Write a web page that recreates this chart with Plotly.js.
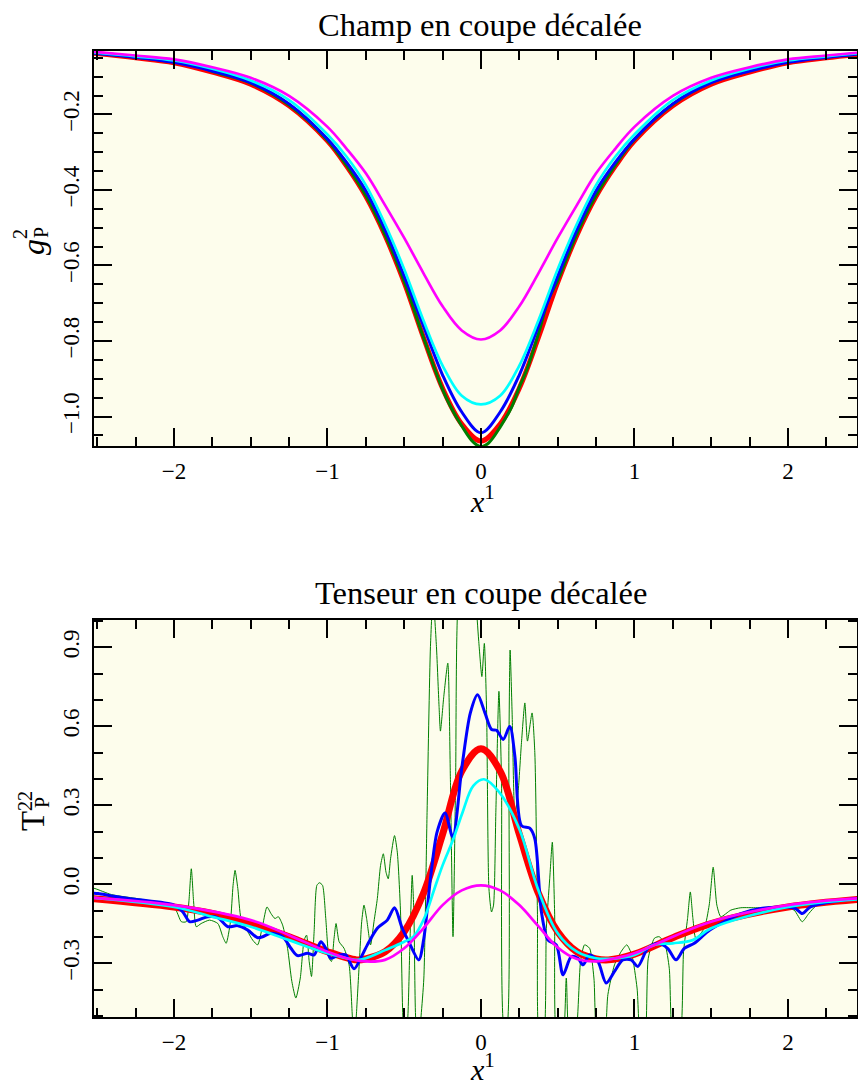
<!DOCTYPE html>
<html>
<head>
<meta charset="utf-8">
<script src="https://cdn.plot.ly/plotly-3.0.1.min.js"></script>
<style>html,body{margin:0;padding:0;background:#fff;}#chart{width:858px;height:1085px;}</style>
</head>
<body>
<div id="chart"></div>
<script>
// ---------- Top panel: Champ en coupe décalée ----------
const xTop = [-2.55,-2.25,-2,-1.75,-1.5,-1.25,-1,-0.875,-0.75,-0.625,-0.5,-0.375,-0.25,-0.125,0,0.125,0.25,0.375,0.5,0.625,0.75,0.875,1,1.25,1.5,1.75,2,2.25,2.55];
const redTop = [-0.037,-0.050,-0.063,-0.088,-0.120,-0.177,-0.270,-0.337,-0.417,-0.520,-0.645,-0.790,-0.925,-1.020,-1.065,-1.020,-0.925,-0.790,-0.645,-0.520,-0.417,-0.337,-0.270,-0.177,-0.120,-0.088,-0.063,-0.050,-0.037];
const blueTop = [-0.037,-0.049,-0.062,-0.085,-0.116,-0.172,-0.265,-0.327,-0.402,-0.505,-0.628,-0.760,-0.890,-0.988,-1.043,-0.988,-0.890,-0.760,-0.628,-0.505,-0.402,-0.327,-0.265,-0.172,-0.116,-0.085,-0.062,-0.049,-0.037];
const cyanTop = [-0.035,-0.046,-0.057,-0.079,-0.110,-0.162,-0.253,-0.312,-0.387,-0.490,-0.610,-0.745,-0.865,-0.945,-0.968,-0.945,-0.865,-0.745,-0.610,-0.490,-0.387,-0.312,-0.253,-0.162,-0.110,-0.079,-0.057,-0.046,-0.035];
const magentaTop = [-0.033,-0.044,-0.054,-0.075,-0.103,-0.151,-0.233,-0.291,-0.356,-0.440,-0.527,-0.620,-0.708,-0.772,-0.796,-0.772,-0.708,-0.620,-0.527,-0.440,-0.356,-0.291,-0.233,-0.151,-0.103,-0.075,-0.054,-0.044,-0.033];
const xGreenTop = [-2.55,-2.25,-2,-1.89,-1.75,-1.5,-1.25,-1,-0.875,-0.75,-0.625,-0.5,-0.375,-0.25,-0.2,-0.125,-0.05,0,0.05,0.125,0.2,0.25,0.3,0.375,0.44,0.5,0.625,0.75,0.875,1,1.25,1.5,1.75,2,2.25,2.55];
const greenTop = [-0.036,-0.048,-0.061,-0.066,-0.086,-0.117,-0.175,-0.268,-0.335,-0.415,-0.518,-0.642,-0.790,-0.928,-0.972,-1.025,-1.068,-1.080,-1.070,-1.028,-0.975,-0.922,-0.875,-0.780,-0.690,-0.640,-0.516,-0.414,-0.334,-0.266,-0.173,-0.115,-0.084,-0.060,-0.047,-0.036];

// ---------- Bottom panel: Tenseur en coupe décalée ----------
const xRedBot = [-2.55,-2,-1.75,-1.5,-1.25,-1,-0.81,-0.75,-0.625,-0.5,-0.375,-0.25,-0.125,0,0.125,0.25,0.375,0.5,0.625,0.75,0.83,1,1.25,1.5,2,2.55];
const redBot = [-0.053,-0.086,-0.111,-0.149,-0.199,-0.256,-0.287,-0.283,-0.256,-0.180,-0.035,0.190,0.430,0.515,0.430,0.190,-0.035,-0.180,-0.256,-0.283,-0.287,-0.265,-0.203,-0.149,-0.086,-0.053];
const xMagBot = [-2.55,-2,-1.5,-1.25,-1,-0.875,-0.75,-0.625,-0.5,-0.375,-0.25,-0.125,0,0.125,0.25,0.375,0.5,0.625,0.75,0.875,1,1.25,1.5,2,2.55];
const magentaBot = [-0.050,-0.079,-0.136,-0.193,-0.256,-0.281,-0.293,-0.287,-0.243,-0.167,-0.079,-0.023,-0.004,-0.023,-0.079,-0.160,-0.240,-0.284,-0.293,-0.281,-0.262,-0.199,-0.142,-0.079,-0.050];
const xCyanBot = [-2.55,-2,-1.75,-1.5,-1.25,-1,-0.81,-0.75,-0.62,-0.5,-0.44,-0.37,-0.31,-0.25,-0.18,-0.12,-0.05,0.02,0.12,0.25,0.37,0.5,0.625,0.75,0.88,1.0,1.13,1.25,1.38,1.5,2,2.55];
const cyanBot = [-0.050,-0.086,-0.123,-0.161,-0.212,-0.262,-0.287,-0.281,-0.249,-0.218,-0.199,-0.130,-0.029,0.072,0.172,0.273,0.374,0.399,0.349,0.210,-0.016,-0.186,-0.256,-0.281,-0.281,-0.268,-0.230,-0.224,-0.212,-0.167,-0.086,-0.053];
const blueBotPoints = [
  [-2.55,-0.033],[-2.494,-0.035],[-2.407,-0.044],[-2.255,-0.057],[-2.0,-0.079],[-1.942,-0.105],[-1.898,-0.142],[-1.844,-0.136],[-1.779,-0.123],[-1.714,-0.127],
  [-1.649,-0.161],[-1.584,-0.157],[-1.519,-0.174],[-1.455,-0.203],[-1.422,-0.199],[-1.368,-0.186],[-1.292,-0.199],[-1.238,-0.243],[-1.195,-0.271],[-1.13,-0.262],
  [-1.087,-0.268],[-1.043,-0.218],[-1.011,-0.243],[-0.978,-0.281],[-0.924,-0.268],[-0.881,-0.268],[-0.827,-0.321],[-0.784,-0.281],[-0.74,-0.23],[-0.675,-0.167],
  [-0.61,-0.136],[-0.563,-0.089],[-0.513,-0.167],[-0.47,-0.218],[-0.405,-0.287],[-0.372,-0.205],[-0.329,0.021],[-0.286,0.198],[-0.234,0.271],[-0.184,0.180],
  [-0.123,0.45],[-0.069,0.651],[-0.022,0.72],[0.026,0.651],[0.069,0.588],[0.102,0.585],[0.145,0.55],[0.188,0.6],[0.221,0.487],[0.264,0.223],
  [0.318,0.213],[0.351,0.173],[0.394,-0.105],[0.437,-0.212],[0.491,-0.23],[0.535,-0.344],[0.589,-0.274],[0.632,-0.281],[0.665,-0.306],[0.708,-0.268],
  [0.762,-0.293],[0.816,-0.375],[0.87,-0.331],[0.924,-0.287],[0.978,-0.287],[1.022,-0.312],[1.087,-0.243],[1.152,-0.224],[1.216,-0.243],[1.271,-0.287],
  [1.325,-0.243],[1.39,-0.224],[1.476,-0.18],[1.563,-0.149],[1.693,-0.111],[1.823,-0.092],[1.996,-0.086],[2.05,-0.092],[2.093,-0.111],[2.147,-0.086],
  [2.44,-0.054],[2.55,-0.05]
];
const greenBotPoints = [
  [-2.55,-0.012],[-2.515,-0.016],[-2.407,-0.039],[-2.212,-0.057],[-2.0,-0.086],[-1.952,-0.142],[-1.92,-0.142],[-1.903,-0.067],[-1.887,0.059],[-1.872,-0.067],
  [-1.855,-0.161],[-1.823,-0.149],[-1.768,-0.136],[-1.714,-0.149],[-1.682,-0.199],[-1.66,-0.224],[-1.632,-0.142],[-1.615,-0.004],[-1.602,0.053],[-1.584,-0.016],
  [-1.563,-0.13],[-1.519,-0.18],[-1.487,-0.212],[-1.455,-0.23],[-1.422,-0.155],[-1.394,-0.086],[-1.368,-0.111],[-1.342,-0.13],[-1.32,-0.123],[-1.292,-0.155],
  [-1.26,-0.243],[-1.232,-0.369],[-1.206,-0.432],[-1.177,-0.356],[-1.152,-0.212],[-1.136,-0.193],[-1.119,-0.293],[-1.104,-0.35],[-1.087,-0.18],[-1.069,-0.004],
  [-1.052,0.006],[-1.032,-0.004],[-1.011,-0.13],[-0.989,-0.281],[-0.974,-0.293],[-0.957,-0.205],[-0.944,-0.149],[-0.924,-0.218],[-0.892,-0.243],[-0.859,-0.306],
  [-0.838,-0.5],[-0.825,-0.62],[-0.812,-0.5],[-0.792,-0.293],[-0.777,-0.142],[-0.762,-0.079],[-0.745,-0.13],[-0.719,-0.23],[-0.697,-0.142],[-0.675,-0.054],
  [-0.654,0.072],[-0.636,0.116],[-0.619,0.047],[-0.604,0.021],[-0.589,0.097],[-0.563,0.185],[-0.545,0.122],[-0.524,-0.105],[-0.509,-0.5],[-0.494,-0.63],
  [-0.476,-0.5],[-0.463,-0.23],[-0.448,0.034],[-0.437,-0.105],[-0.426,-0.5],[-0.409,-0.63],[-0.39,-0.5],[-0.372,-0.356],[-0.351,0.273],[-0.329,0.903],
  [-0.312,1.09],[-0.29,0.903],[-0.273,0.676],[-0.264,0.582],[-0.242,0.714],[-0.216,0.84],[-0.199,0.399],[-0.182,-0.199],[-0.165,0.399],[-0.147,1.09],
  [-0.091,1.25],[-0.037,1.09],[-0.015,0.928],[0.006,0.789],[0.022,0.915],[0.037,0.651],[0.052,-0.016],[0.069,-0.105],[0.082,-0.079],[0.097,0.273],
  [0.117,0.733],[0.134,0.399],[0.152,-0.55],[0.167,-0.55],[0.182,0.525],[0.19,0.89],[0.203,0.651],[0.221,0.261],[0.242,0.35],[0.264,0.538],
  [0.286,0.689],[0.303,0.544],[0.333,0.651],[0.351,0.5],[0.368,-0.105],[0.383,-0.6],[0.405,-0.6],[0.426,-0.167],[0.448,0.021],[0.465,0.16],
  [0.48,-0.105],[0.498,-0.6],[0.53,-0.6],[0.556,-0.356],[0.58,-0.6],[0.61,-0.6],[0.649,-0.293],[0.675,-0.23],[0.708,-0.243],[0.736,-0.356],
  [0.762,-0.6],[0.8,-0.6],[0.827,-0.419],[0.87,-0.306],[0.913,-0.256],[0.95,-0.23],[0.983,-0.268],[1.017,-0.394],[1.043,-0.6],[1.065,-0.6],
  [1.09,-0.281],[1.13,-0.205],[1.162,-0.199],[1.2,-0.23],[1.227,-0.319],[1.255,-0.6],[1.292,-0.6],[1.32,-0.256],[1.346,-0.13],[1.364,-0.029],
  [1.381,-0.13],[1.4,-0.205],[1.455,-0.167],[1.487,-0.079],[1.513,0.065],[1.537,-0.079],[1.563,-0.123],[1.628,-0.098],[1.693,-0.089],[1.8,-0.089],
  [1.952,-0.086],[2.04,-0.098],[2.093,-0.142],[2.136,-0.111],[2.19,-0.079],[2.44,-0.054],[2.55,-0.05]
];

const topTitle = 'Champ en coupe décalée';
const botTitle = 'Tenseur en coupe décalée';
const xTickVals = [-2,-1,0,1,2];

const FONT = 'Liberation Serif, "DejaVu Serif", serif';

function line(x, y, color, width, xa, ya, smooth) {
  return {x: x, y: y, type: 'scatter', mode: 'lines', xaxis: xa, yaxis: ya,
    line: {color: color, width: width, shape: 'spline', smoothing: smooth === undefined ? 1 : smooth},
    hoverinfo: 'skip'};
}
const px = pts => pts.map(p => p[0]);
const py = pts => pts.map(p => p[1]);

const data = [
  line(xTop, redTop, '#ff0000', 5, 'x', 'y'),
  line(xGreenTop, greenTop, '#007f00', 3, 'x', 'y'),
  line(xTop, blueTop, '#0000ff', 3, 'x', 'y'),
  line(xTop, cyanTop, '#00ffff', 2.7, 'x', 'y'),
  line(xTop, magentaTop, '#ff00ff', 2.7, 'x', 'y'),
  line(px(greenBotPoints), py(greenBotPoints), '#007f00', 1, 'x2', 'y2', 0.6),
  line(xRedBot, redBot, '#ff0000', 7, 'x2', 'y2'),
  line(px(blueBotPoints), py(blueBotPoints), '#0000ff', 3, 'x2', 'y2', 0.8),
  line(xCyanBot, cyanBot, '#00ffff', 2.7, 'x2', 'y2'),
  line(xMagBot, magentaBot, '#ff00ff', 2.7, 'x2', 'y2')
];

const axisCommon = {
  showline: true, linecolor: 'black', linewidth: 2, mirror: 'allticks',
  ticks: 'inside', ticklen: 18, tickwidth: 2, tickcolor: 'black',
  showgrid: false, zeroline: false, fixedrange: true,
  tickfont: {family: FONT, size: 23, color: 'black'}
};
const minorCommon = {ticks: 'inside', ticklen: 9, tickwidth: 2, tickcolor: 'black', showgrid: false};

// plot area: x 94..857, y 51..1017 (px)
const L = 94, R = 857, T = 51, B = 1017;
const W = R - L, H = B - T;
const pxX = p => (p - L) / W;
const pxY = p => (B - p) / H;

const layout = {
  width: 858, height: 1085,
  margin: {l: L, r: 858 - R, t: T, b: 1085 - B, pad: 0},
  paper_bgcolor: '#ffffff',
  plot_bgcolor: '#fdfdec',
  showlegend: false,
  font: {family: FONT, size: 23, color: 'black'},
  xaxis: Object.assign({}, axisCommon, {domain: [0, 1], anchor: 'y', range: [-2.521, 2.450],
    tickvals: xTickVals, ticklabelstandoff: 3, minor: Object.assign({dtick: 0.25, tick0: 0}, minorCommon)}),
  yaxis: Object.assign({}, axisCommon, {domain: [pxY(446), 1], anchor: 'x', range: [-1.078, -0.032],
    dtick: 0.2, tick0: 0, tickformat: '.1f', tickangle: -90, ticklabelstandoff: 4,
    minor: Object.assign({dtick: 0.05, tick0: 0}, minorCommon)}),
  xaxis2: Object.assign({}, axisCommon, {domain: [0, 1], anchor: 'y2', range: [-2.521, 2.450],
    tickvals: xTickVals, ticklabelstandoff: 3, minor: Object.assign({dtick: 0.25, tick0: 0}, minorCommon)}),
  yaxis2: Object.assign({}, axisCommon, {domain: [0, pxY(620)], anchor: 'x2', range: [-0.504, 1.004],
    dtick: 0.3, tick0: 0, tickformat: '.1f', tickangle: -90, ticklabelstandoff: 4,
    minor: Object.assign({dtick: 0.1, tick0: 0}, minorCommon)}),
  annotations: [
    {text: topTitle, xref: 'paper', yref: 'paper', x: pxX(480), y: pxY(25), xanchor: 'center', yanchor: 'middle', showarrow: false, font: {family: FONT, size: 32.5}},
    {text: botTitle, xref: 'paper', yref: 'paper', x: pxX(481), y: pxY(593), xanchor: 'center', yanchor: 'middle', showarrow: false, font: {family: FONT, size: 32.5}},
    {text: '<i>x</i><sup>1</sup>', xref: 'paper', yref: 'paper', x: pxX(483), y: pxY(499), xanchor: 'center', yanchor: 'middle', showarrow: false, font: {family: FONT, size: 30}},
    {text: '<i>x</i><sup>1</sup>', xref: 'paper', yref: 'paper', x: pxX(483), y: pxY(1067), xanchor: 'center', yanchor: 'middle', showarrow: false, font: {family: FONT, size: 30}},
    // y title top: g^2_P
    {text: '<i>g</i>', xref: 'paper', yref: 'paper', x: pxX(33), y: pxY(247), xanchor: 'center', yanchor: 'middle', textangle: -90, showarrow: false, font: {family: FONT, size: 32}},
    {text: '2', xref: 'paper', yref: 'paper', x: pxX(20), y: pxY(234), xanchor: 'center', yanchor: 'middle', textangle: -90, showarrow: false, font: {family: FONT, size: 20}},
    {text: 'P', xref: 'paper', yref: 'paper', x: pxX(41), y: pxY(233), xanchor: 'center', yanchor: 'middle', textangle: -90, showarrow: false, font: {family: FONT, size: 20}},
    // y title bottom: T^22_P
    {text: 'T', xref: 'paper', yref: 'paper', x: pxX(33), y: pxY(821), xanchor: 'center', yanchor: 'middle', textangle: -90, showarrow: false, font: {family: FONT, size: 33}},
    {text: '22', xref: 'paper', yref: 'paper', x: pxX(25), y: pxY(801), xanchor: 'center', yanchor: 'middle', textangle: -90, showarrow: false, font: {family: FONT, size: 20}},
    {text: 'P', xref: 'paper', yref: 'paper', x: pxX(42), y: pxY(802), xanchor: 'center', yanchor: 'middle', textangle: -90, showarrow: false, font: {family: FONT, size: 20}}
  ]
};

Plotly.newPlot('chart', data, layout, {displayModeBar: false, staticPlot: true});
</script>
</body>
</html>
